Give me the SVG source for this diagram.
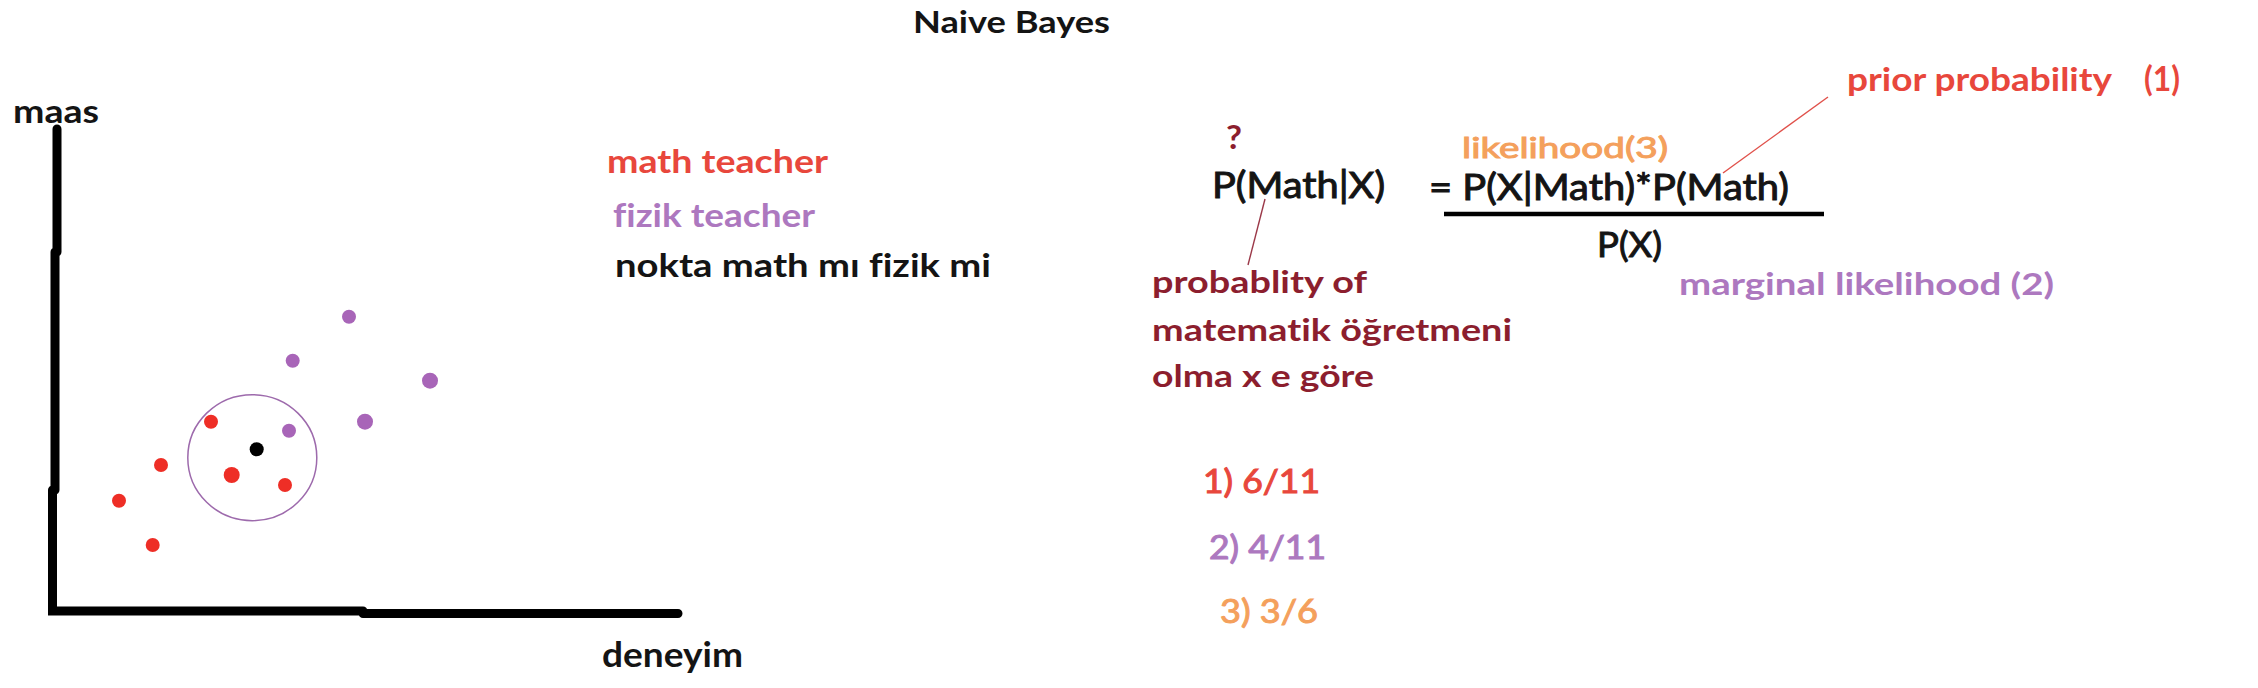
<svg xmlns="http://www.w3.org/2000/svg" width="2258" height="688" viewBox="0 0 2258 688">
<style>
text{font-family:Lato,"Liberation Sans",sans-serif;font-variant-ligatures:none;}
.b{font-weight:700;}
.r{font-weight:400;stroke-width:1px;}
.blk{fill:#141414;}
.blk.r{stroke:#141414;}
.red{fill:#e8473c;}
.pur{fill:#ad78bf;}
.drd{fill:#8c1e2e;}
.org{fill:#f4a05c;}
.red.r{stroke:#e8473c;}
.pur.r{stroke:#ad78bf;}
.org.r{stroke:#f4a05c;}
.axis{stroke:#000;stroke-width:9;stroke-linecap:round;fill:none;}
.dr{fill:#ee2e26;}
.dp{fill:#a865b8;}
.lead{fill:none;stroke-width:1.4;}
</style>
<rect width="2258" height="688" fill="#fff"/>

<g id="title"><text class="b blk" x="913" y="33" font-size="31" textLength="197" lengthAdjust="spacingAndGlyphs">Naive Bayes</text></g>

<g id="axes">
<path class="axis" d="M57,129 L57,252 M55,252 L55,490 M52.5,490 L52.5,611 L363,611 M363,613.5 L678,613.5"/>
</g>
<g id="label-maas"><text class="b blk" x="13" y="123" font-size="33" textLength="86" lengthAdjust="spacingAndGlyphs">maas</text></g>
<g id="label-deneyim"><text class="b blk" x="602" y="667" font-size="34" textLength="141" lengthAdjust="spacingAndGlyphs">deneyim</text></g>

<g id="legend">
<text class="b red" x="607" y="173" font-size="33" textLength="221" lengthAdjust="spacingAndGlyphs">math teacher</text>
<text class="b pur" x="613" y="227" font-size="33" textLength="202" lengthAdjust="spacingAndGlyphs">fizik teacher</text>
<text class="b blk" x="615" y="277" font-size="33" textLength="376" lengthAdjust="spacingAndGlyphs">nokta math mı fizik mi</text>
</g>

<g id="points">
<circle class="dr" cx="211" cy="421.7" r="7"/>
<circle class="dr" cx="161" cy="465" r="7"/>
<circle class="dr" cx="119" cy="500.7" r="7"/>
<circle class="dr" cx="152.7" cy="545" r="7"/>
<circle class="dr" cx="231.7" cy="475" r="8"/>
<circle class="dr" cx="285" cy="485" r="7"/>
<circle class="dp" cx="349" cy="316.7" r="7"/>
<circle class="dp" cx="292.7" cy="360.7" r="7"/>
<circle class="dp" cx="430" cy="380.7" r="8"/>
<circle class="dp" cx="365" cy="421.7" r="8"/>
<circle class="dp" cx="289" cy="430.7" r="7"/>
<circle cx="256.7" cy="449.3" r="7" fill="#000"/>
</g>
<g id="neighborhood"><ellipse cx="252.3" cy="457.7" rx="64.5" ry="63" fill="none" stroke="#9d6aac" stroke-width="1.5"/></g>

<g id="formula">
<text class="b drd" x="1226" y="149" font-size="33" textLength="16" lengthAdjust="spacingAndGlyphs">?</text>
<text class="r blk" x="1212" y="198" font-size="36" textLength="173" lengthAdjust="spacingAndGlyphs">P(Math|X)</text>
<text class="r org" x="1462" y="158" font-size="29" textLength="206" lengthAdjust="spacingAndGlyphs">likelihood(3)</text>
<text class="r blk" x="1429" y="200" font-size="36" textLength="360" lengthAdjust="spacingAndGlyphs">= P(X|Math)*P(Math)</text>
<line x1="1444" y1="214" x2="1824" y2="214" stroke="#000" stroke-width="4.5"/>
<text class="r blk" x="1597" y="257" font-size="35" textLength="65" lengthAdjust="spacingAndGlyphs">P(X)</text>
</g>

<g id="prior-label">
<text class="b red" y="91" font-size="32"><tspan x="1847" textLength="265" lengthAdjust="spacingAndGlyphs">prior probability</tspan><tspan x="2144" font-size="34" textLength="36" lengthAdjust="spacingAndGlyphs">(1)</tspan></text>
</g>
<g id="marginal-label"><text class="b pur" x="1679" y="295" font-size="31" textLength="375" lengthAdjust="spacingAndGlyphs">marginal likelihood (2)</text></g>

<g id="posterior-label">
<text class="b drd" x="1152" y="293" font-size="31" textLength="215" lengthAdjust="spacingAndGlyphs">probablity of</text>
<text class="b drd" x="1152" y="341" font-size="31" textLength="360" lengthAdjust="spacingAndGlyphs">matematik öğretmeni</text>
<text class="b drd" x="1152" y="387" font-size="31" textLength="222" lengthAdjust="spacingAndGlyphs">olma x e göre</text>
</g>

<g id="values">
<text class="r red" x="1203" y="493" font-size="32" textLength="117" lengthAdjust="spacingAndGlyphs">1) 6/11</text>
<text class="r pur" x="1209" y="559" font-size="32" textLength="117" lengthAdjust="spacingAndGlyphs">2) 4/11</text>
<text class="r org" x="1220" y="623" font-size="32" textLength="98" lengthAdjust="spacingAndGlyphs">3) 3/6</text>
</g>

<g id="connectors">
<line class="lead" x1="1265" y1="199" x2="1248" y2="265" stroke="#9b3848"/>
<line class="lead" x1="1723" y1="173" x2="1828" y2="97" stroke="#e0504a"/>
</g>
</svg>
